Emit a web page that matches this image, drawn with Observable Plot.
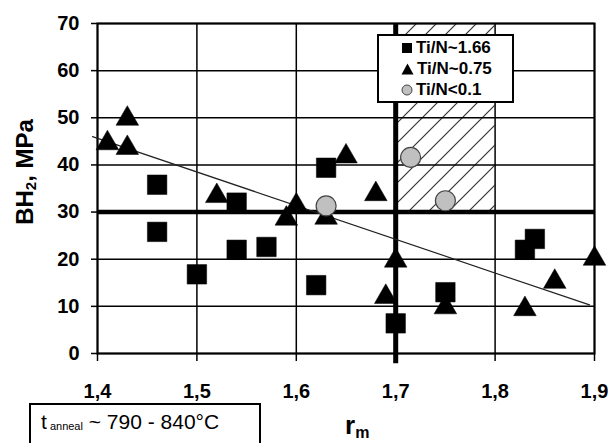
<!DOCTYPE html>
<html>
<head>
<meta charset="utf-8">
<script src="https://cdn.jsdelivr.net/npm/d3@7"></script>
<script src="https://cdn.jsdelivr.net/npm/@observablehq/plot@0.6"></script>
<style>
  html, body { margin: 0; padding: 0; background: #fff; }
  #wrap { position: relative; width: 608px; height: 443px; overflow: hidden; font-family: "Liberation Sans", Arial, sans-serif; color: #000; }
  #wrap svg.plot { position: absolute; left: 0; top: 0; }
  .legend { position: absolute; left: 377px; top: 34px; width: 133px; height: 65px; border: 2px solid #000; background: #fff; font-weight: bold; font-size: 17px; }
  .legend .row { position: absolute; left: 22px; height: 20px; line-height: 20px; white-space: nowrap; }
  .legend .row svg { vertical-align: middle; margin-right: 3px; position: relative; top: -1px; }
  .note { position: absolute; left: 29px; top: 403px; width: 228px; height: 60px; border: 2px solid #000; background: #fff; font-size: 21px; }
  .note span.t { position: absolute; left: 10px; top: 5px; white-space: nowrap; }
  .note sub { font-size: 11px; vertical-align: baseline; position: relative; top: 1px; }
  .ylab { position: absolute; left: 25px; top: 172px; transform: translate(-50%, -50%) rotate(-90deg); font-weight: bold; font-size: 24px; white-space: nowrap; }
  .ylab sub { font-size: 15px; vertical-align: baseline; position: relative; top: 3px; }
  .xlab { position: absolute; left: 345px; top: 410px; font-weight: bold; font-size: 26px; white-space: nowrap; }
  .xlab sub { font-size: 16px; vertical-align: baseline; position: relative; top: 4px; }
</style>
</head>
<body>
<div id="wrap">
  <svg width="0" height="0" style="position:absolute">
    <defs>
      <pattern id="hatch" patternUnits="userSpaceOnUse" width="20" height="20">
        <path d="M-2,2 L2,-2 M0,20 L20,0 M18,22 L22,18" stroke="#333" stroke-width="1.2"/>
      </pattern>
    </defs>
  </svg>
</div>
<script>
// ---- data ----
const xTicks = [1.4, 1.5, 1.6, 1.7, 1.8, 1.9];
const yTicks = [0, 10, 20, 30, 40, 50, 60, 70];

// Ti/N ~ 1.66 (squares)
const sqX = [1.46, 1.46, 1.50, 1.54, 1.54, 1.57, 1.62, 1.63, 1.70, 1.75, 1.83, 1.84];
const sqY = [35.8, 25.8, 16.8, 32.0, 22.0, 22.6, 14.5, 39.4, 6.4, 13.0, 22.0, 24.3];

// Ti/N ~ 0.75 (triangles)
const triX = [1.41, 1.43, 1.43, 1.52, 1.59, 1.60, 1.63, 1.65, 1.68, 1.69, 1.70, 1.75, 1.83, 1.86, 1.90];
const triY = [44.6, 49.8, 43.6, 33.4, 28.6, 31.4, 28.8, 41.8, 33.8, 12.0, 19.7, 9.8, 9.4, 15.2, 20.1];

// Ti/N < 0.1 (circles)
const cirX = [1.63, 1.715, 1.75];
const cirY = [31.3, 41.6, 32.4];

// trend line
const trendX = [1.395, 1.895];
const trendY = [46.0, 10.3];

// reference lines and hatched zone
const refX = 1.7;
const refY = 30;
const zone = {x1: 1.7, x2: 1.8, y1: 30, y2: 70};

const squares = sqX.map((x, i) => ({x, y: sqY[i]}));
const triangles = triX.map((x, i) => ({x, y: triY[i]}));
const circles = cirX.map((x, i) => ({x, y: cirY[i]}));
const trend = trendX.map((x, i) => ({x, y: trendY[i]}));

const fmt = d => d.toFixed(1).replace(".", ",");

const plot = Plot.plot({
  width: 608,
  height: 443,
  marginLeft: 97,
  marginRight: 14,
  marginTop: 23,
  marginBottom: 90,
  x: {domain: [1.4, 1.9]},
  y: {domain: [0, 70]},
  style: {fontFamily: "Liberation Sans, Arial, sans-serif", color: "#000", background: "transparent", overflow: "visible"},
  marks: [
    Plot.rect([zone], {x1: "x1", x2: "x2", y1: "y1", y2: "y2", fill: "url(#hatch)"}),
    Plot.gridX(xTicks, {stroke: "#000", strokeOpacity: 1, strokeWidth: 1.5}),
    Plot.gridY(yTicks, {stroke: "#000", strokeOpacity: 1, strokeWidth: 1.5}),
    Plot.frame({stroke: "#000", strokeWidth: 2}),
    Plot.axisX(xTicks, {tickSize: 8, tickPadding: 22, tickFormat: fmt, fontSize: 20, fontWeight: "bold", label: null, strokeWidth: 1.5}),
    Plot.axisY(yTicks, {tickSize: 6, tickPadding: 12, fontSize: 20, fontWeight: "bold", label: null, strokeWidth: 1.5}),
    Plot.ruleY([refY], {x1: 1.4, x2: 1.9, stroke: "#000", strokeWidth: 4.5}),
    Plot.ruleX([refX], {y1: -2.2, y2: 70, stroke: "#000", strokeWidth: 5}),
    Plot.line(trend, {x: "x", y: "y", stroke: "#222", strokeWidth: 1.2}),
    Plot.dot(triangles, {x: "x", y: "y", symbol: "triangle", r: 8.4, fill: "#000", stroke: "#000", strokeWidth: 0.5}),
    Plot.dot(squares, {x: "x", y: "y", symbol: "square", r: 11, fill: "#000", stroke: "#000", strokeWidth: 0.5}),
    Plot.dot(circles, {x: "x", y: "y", symbol: "circle", r: 10, fill: "#c0c0c0", stroke: "#444", strokeWidth: 1.2})
  ]
});
plot.classList.add("plot");
const wrap = document.getElementById("wrap");
wrap.appendChild(plot);

// overlays: legend, annotation box, axis labels
wrap.insertAdjacentHTML("beforeend", `
  <div class="legend">
    <div class="row" style="top:2px"><svg width="12" height="12"><rect x="1" y="1" width="10" height="10" fill="#000"/></svg>Ti/N~1.66</div>
    <div class="row" style="top:23px"><svg width="13" height="12"><path d="M6.5,0.5 L12.5,11.5 L0.5,11.5 Z" fill="#000"/></svg>Ti/N~0.75</div>
    <div class="row" style="top:44px"><svg width="12" height="12"><circle cx="6" cy="6" r="5" fill="#c0c0c0" stroke="#444" stroke-width="1"/></svg>Ti/N&lt;0.1</div>
  </div>
  <div class="note"><span class="t">t<sub> anneal</sub> ~ 790 - 840°C</span></div>
  <div class="ylab">BH<sub>2</sub>, MPa</div>
  <div class="xlab">r<sub>m</sub></div>
`);
</script>
</body>
</html>
